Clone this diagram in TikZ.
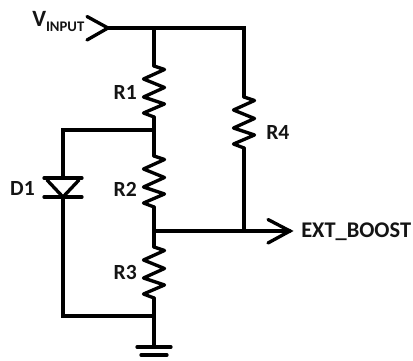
\documentclass[tikz,border=0pt]{standalone}
\usepackage{fontspec}
\setmainfont{Carlito}
\tikzset{
  x=0.75pt,y=-0.75pt,
  wire/.style={line width=2.5pt,line cap=round,line join=miter},
  lab/.style={font=\bfseries\fontsize{16.2}{18}\selectfont,inner sep=0pt,text=black!92},
}
\newcommand{\resistor}[2]{% x, top y (height 51)
  \draw[wire,line join=round] (#1,#2) -- (#1+10.5,#2+3.5) -- (#1-10.5,#2+13) -- (#1+10.5,#2+21.5) -- (#1-10.5,#2+31) -- (#1+10.5,#2+38) -- (#1-10.5,#2+47) -- (#1,#2+51);
}
\begin{document}
\begin{tikzpicture}
\useasboundingbox (0,0) rectangle (413,360);
\coordinate (vin) at (108,28);
\coordinate (vtop) at (154,28);
\coordinate (rtop) at (244,28);
\coordinate (r1t) at (154,66);
\coordinate (r1b) at (154,117);
\coordinate (n1) at (154,130);
\coordinate (dl) at (63,130);
\coordinate (r2t) at (154,156);
\coordinate (r2b) at (154,207);
\coordinate (n2) at (154,231);
\coordinate (r3t) at (154,247);
\coordinate (r3b) at (154,298);
\coordinate (n3) at (154,316);
\coordinate (dbl) at (63,316);
\coordinate (g) at (154,347);
\coordinate (r4t) at (244,97);
\coordinate (r4b) at (244,148);
\coordinate (j) at (244,231);
\coordinate (out) at (290,231);
\coordinate (dtop) at (63,178);
\coordinate (dcat) at (63,197);
\draw[wire] (vin) -- (rtop) -- (r4t);
\draw[wire] (vtop) -- (r1t);
\draw[wire] (r1b) -- (r2t);
\draw[wire] (r2b) -- (r3t);
\draw[wire] (r3b) -- (g);
\draw[wire] (r4b) -- (j);
\draw[wire] (n2) -- (out);
\draw[wire] (n1) -- (dl) -- (dtop);
\draw[wire] (dcat) -- (dbl) -- (n3);
\resistor{154}{66}
\resistor{154}{156}
\resistor{154}{247}
\resistor{244}{97}
\draw[wire] (87,16.5) -- (vin) -- (87,40);
\draw[wire] (268,219.5) -- (out) -- (268,243);
\draw[wire] (44,178) -- (82,178);
\draw[wire,line join=round] (47,180) -- (63,197) -- (79,180);
\draw[wire] (44,197) -- (82,197);
\draw[wire] (137,347) -- (171,347);
\draw[wire] (141,355) -- (167,355);
\node[lab,anchor=base west] (vl) at (32,27) {\fontsize{17.5}{20}\selectfont V\raisebox{-3pt}{\fontsize{11}{12}\selectfont INPUT}};
\node[lab,anchor=east] (r1l) at (137,92) {R1};
\node[lab,anchor=east] (r2l) at (137,189) {R2};
\node[lab,anchor=east] (r3l) at (137,272) {R3};
\node[lab,anchor=west] (r4l) at (266,132) {R4};
\node[lab,anchor=east] (d1l) at (35,188) {D1};
\node[lab,anchor=west,font=\bfseries\fontsize{16.8}{18}\selectfont] (ext) at (301,232) {EXT\_BOOST};
\end{tikzpicture}
\end{document}
